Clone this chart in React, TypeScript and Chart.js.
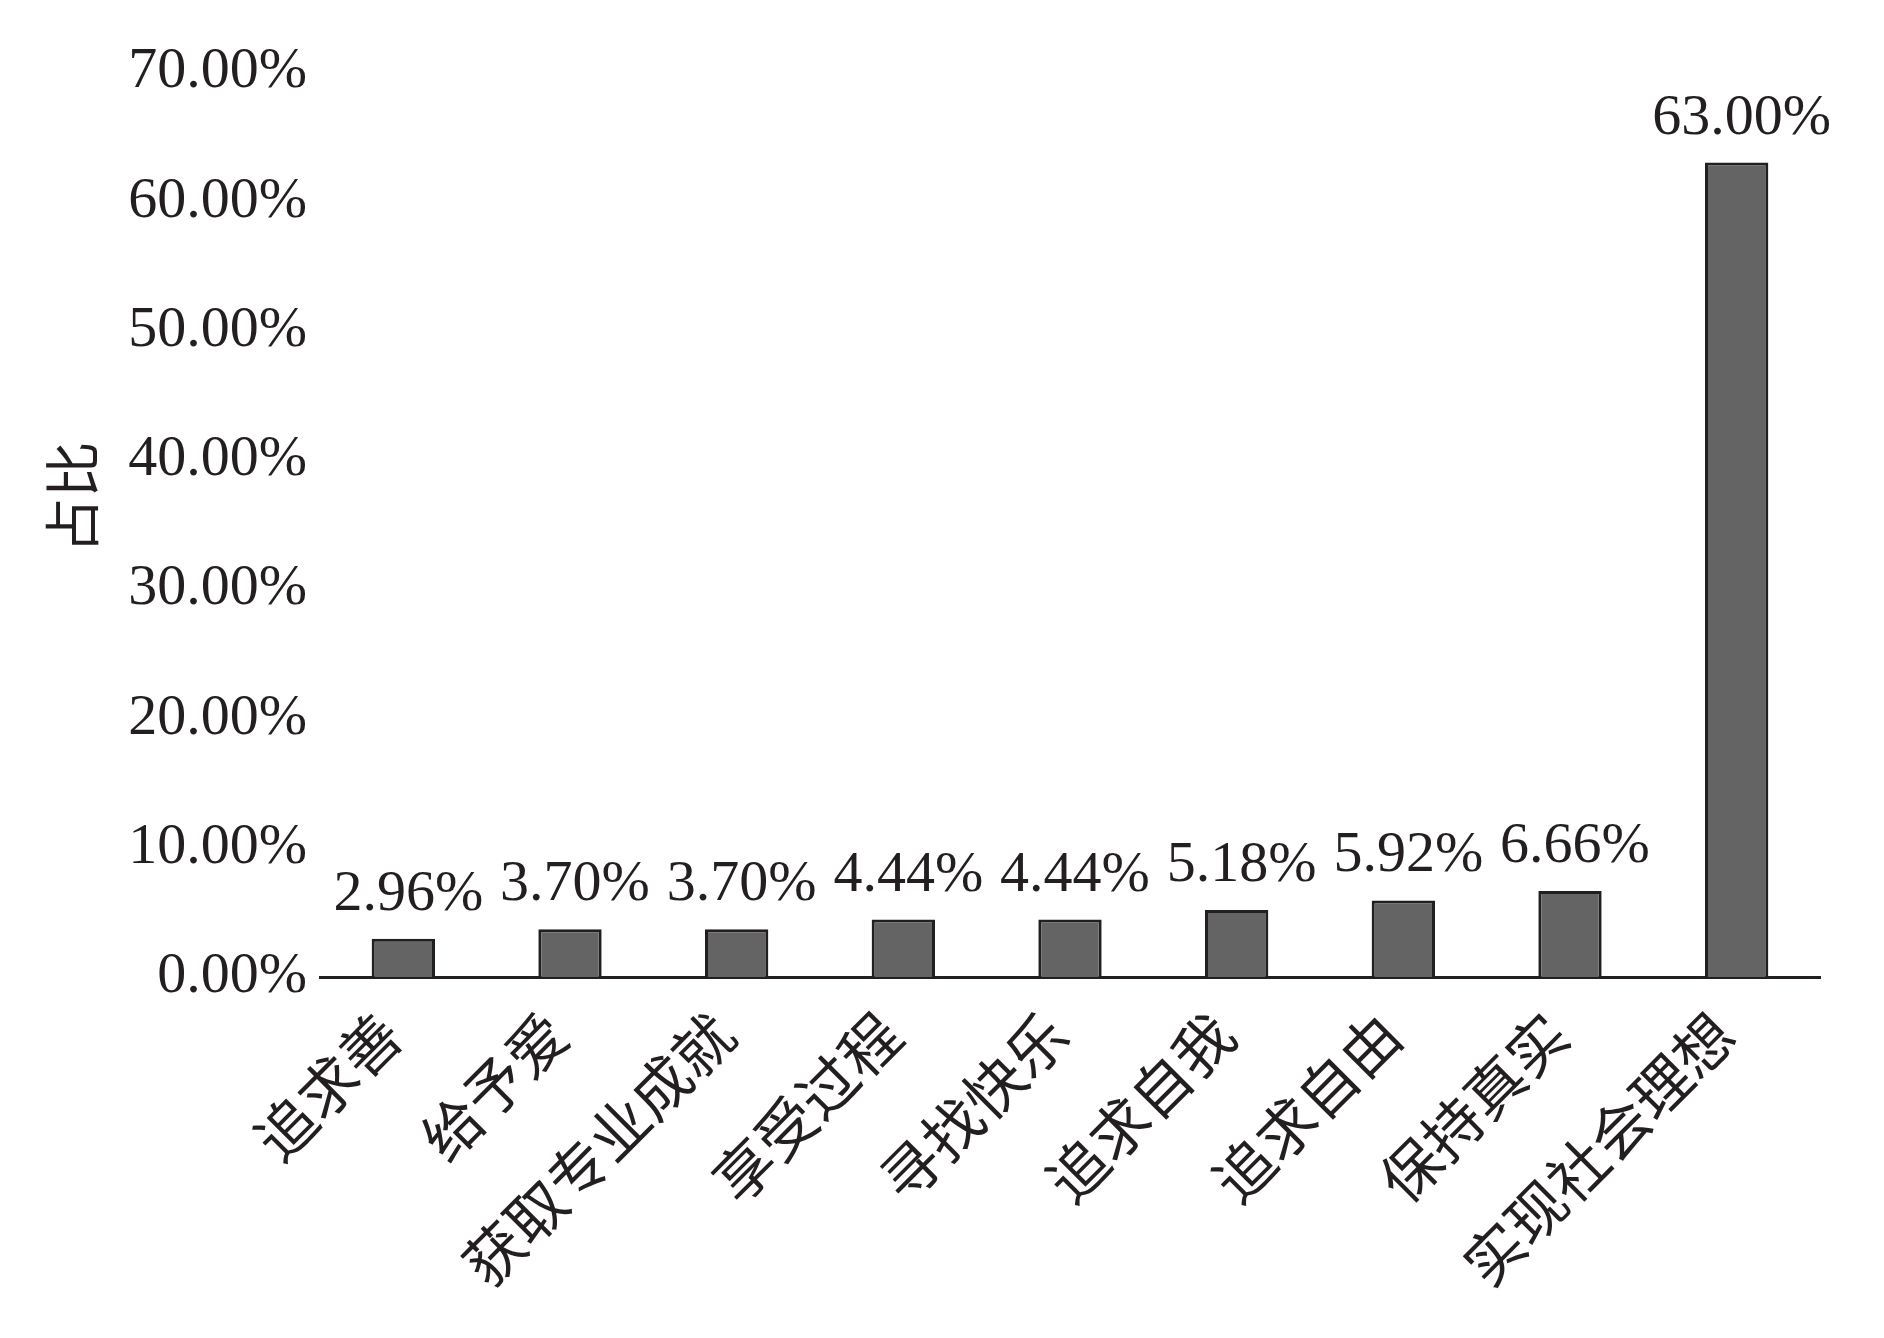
import React, { useEffect, useRef } from 'react';
import { Chart, registerables } from 'chart.js';

Chart.register(...registerables);

const categories = ['追求善', '给予爱', '获取专业成就', '享受过程', '寻找快乐', '追求自我', '追求自由', '保持真实', '实现社会理想'];
const shares = [2.96, 3.7, 3.7, 4.44, 4.44, 5.18, 5.92, 6.66, 63.0];
const yMin = 0;
const yMax = 70;
const yStep = 10;
const yTitle = '占比';

const INK = '#231f20';
const SERIF = "'Liberation Serif', 'Times New Roman', serif";
const CJK = "'Noto Sans CJK SC', sans-serif";

const fmt = (v: number) => v.toFixed(2) + '%';

const valueLabels = {
  id: 'valueLabels',
  afterDatasetsDraw(chart: any) {
    const ctx = chart.ctx;
    const meta = chart.getDatasetMeta(0);
    ctx.save();
    ctx.font = `58px ${SERIF}`;
    ctx.fillStyle = INK;
    ctx.textAlign = 'center';
    ctx.textBaseline = 'alphabetic';
    meta.data.forEach((bar: any, i: number) => {
      ctx.fillText(fmt(shares[i]), bar.x + 5, bar.y - 29);
    });
    ctx.restore();
  },
};

const yTitlePlugin = {
  id: 'yTitlePlugin',
  afterDraw(chart: any) {
    const ctx = chart.ctx;
    const area = chart.chartArea;
    ctx.save();
    ctx.translate(72, (area.top + area.bottom) / 2 - 27);
    ctx.rotate(-Math.PI / 2);
    ctx.font = `56px ${CJK}`;
    ctx.fillStyle = INK;
    ctx.textAlign = 'center';
    ctx.textBaseline = 'middle';
    ctx.fillText(yTitle, 0, 0);
    ctx.restore();
  },
};

export default function App() {
  const ref = useRef<HTMLCanvasElement | null>(null);

  useEffect(() => {
    document.body.style.margin = '0';
    const canvas = ref.current;
    if (!canvas) return;
    const chart = new Chart(canvas, {
      type: 'bar',
      data: {
        labels: categories,
        datasets: [
          {
            data: shares,
            backgroundColor: '#646464',
            borderColor: INK,
            borderWidth: 3,
            categoryPercentage: 1,
            barPercentage: 0.38,
          },
        ],
      },
      options: {
        animation: false,
        responsive: false,
        devicePixelRatio: 1,
        layout: { padding: { top: 72, right: 64, left: 0, bottom: 0 } },
        plugins: {
          legend: { display: false },
          tooltip: { enabled: false },
          title: { display: false },
        },
        scales: {
          x: {
            grid: { display: false, drawTicks: false },
            border: { display: true, color: INK, width: 3 },
            ticks: {
              autoSkip: false,
              minRotation: 45,
              maxRotation: 45,
              padding: 22,
              labelOffset: -13,
              color: INK,
              font: { family: CJK, size: 59 },
            },
            afterFit: (s: any) => {
              s.height = 361;
            },
          },
          y: {
            min: yMin,
            max: yMax,
            grid: { display: false, drawTicks: false },
            border: { display: false },
            ticks: {
              stepSize: yStep,
              padding: 13,
              color: INK,
              font: { family: SERIF, size: 58 },
              callback: (v: any) => fmt(Number(v)),
            },
            afterFit: (s: any) => {
              s.width = 320;
            },
          },
        },
      },
      plugins: [valueLabels, yTitlePlugin],
    });
    return () => chart.destroy();
  }, []);

  return (
    <div style={{ position: 'absolute', left: 0, top: 0, width: 1884, height: 1338, background: '#fff' }}>
      <canvas ref={ref} width={1884} height={1338} />
    </div>
  );
}
